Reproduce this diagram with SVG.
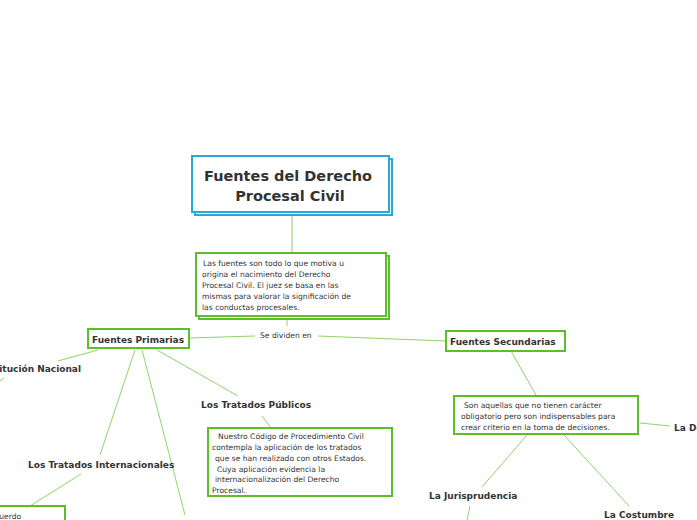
<svg xmlns="http://www.w3.org/2000/svg" width="697" height="520" viewBox="0 0 697 520">
<style>
text{font-family:"DejaVu Sans","Open Sans",sans-serif;fill:#333}
.b{font-weight:bold;font-size:9px}
.s{font-size:7.6px}
.g{fill:#fff;stroke:#5bbf2a;stroke-width:2}
.c{stroke:#8fd46a;stroke-width:1;fill:none}
</style>
<rect width="697" height="520" fill="#fff"/>
<g id="connectors">
<path class="c" d="M292 214V253M287 318V326M189 338L255 336M318 336L445 341M511 351L536 395M640 423L670 426M527 435L482 487M470 506L467 520M564 435L629 506M98 350L58 361M4 378L0 381M135 350L100 455M81 474L30 506M142 350L185 515M157 350L238 396M262 416L271 428"/>
</g>
<g id="title">
<rect x="195" y="159" width="197" height="56" fill="#fff" stroke="#2aa8d8" stroke-width="2"/>
<rect x="192" y="156" width="197" height="56" fill="#fff" stroke="#2aa8d8" stroke-width="2"/>
<text x="288" y="181" text-anchor="middle" font-size="14.5" font-weight="bold">Fuentes del Derecho</text>
<text x="290" y="201" text-anchor="middle" font-size="14.5" font-weight="bold">Procesal Civil</text>
</g>
<g id="desc">
<rect class="g" x="199" y="256" width="190" height="63"/>
<rect class="g" x="196" y="253" width="190" height="63"/>
<text class="s" x="203" y="266">Las fuentes son todo lo que motiva u</text>
<text class="s" x="202" y="277">origina el nacimiento del Derecho</text>
<text class="s" x="202" y="288">Procesal Civil. El juez se basa en las</text>
<text class="s" x="202" y="299">mismas para valorar la significación de</text>
<text class="s" x="202" y="310">las conductas procesales.</text>
</g>
<g id="sedividen"><text class="s" x="260" y="338">Se dividen en</text></g>
<g id="primarias">
<rect class="g" x="88" y="329" width="101" height="19"/>
<text class="b" x="92" y="343">Fuentes Primarias</text>
</g>
<g id="secundarias">
<rect class="g" x="446" y="331" width="119" height="20"/>
<text class="b" x="450" y="345">Fuentes Secundarias</text>
</g>
<g id="secdesc">
<rect class="g" x="454" y="396" width="184" height="38"/>
<text class="s" x="464" y="408">Son aquellas que no tienen carácter</text>
<text class="s" x="461" y="419">obligatorio pero son indispensables para</text>
<text class="s" x="461" y="430">crear criterio en la toma de decisiones.</text>
</g>
<g id="doctrina"><text class="b" x="674" y="431">La Doctrina</text></g>
<g id="jurisprudencia"><text class="b" x="429" y="499">La Jurisprudencia</text></g>
<g id="costumbre"><text class="b" x="604" y="518">La Costumbre</text></g>
<g id="constitucion"><text class="b" x="81" y="372" text-anchor="end">Constitución Nacional</text></g>
<g id="internacionales"><text class="b" x="28" y="468">Los Tratados Internacionales</text></g>
<g id="acuerdo">
<rect class="g" x="-20" y="506" width="85" height="20"/>
<text class="s" x="-10" y="519">Acuerdo</text>
</g>
<g id="publicos">
<text class="b" x="201" y="408">Los Tratados Públicos</text>
<rect class="g" x="208" y="428" width="184" height="68"/>
<text class="s" x="218" y="439">Nuestro Código de Procedimiento Civil</text>
<text class="s" x="212" y="450">contempla la aplicación de los tratados</text>
<text class="s" x="215" y="461">que se han realizado con otros Estados.</text>
<text class="s" x="217" y="472">Cuya aplicación evidencia la</text>
<text class="s" x="215" y="482">internacionalización del Derecho</text>
<text class="s" x="212" y="493">Procesal.</text>
</g>
</svg>
